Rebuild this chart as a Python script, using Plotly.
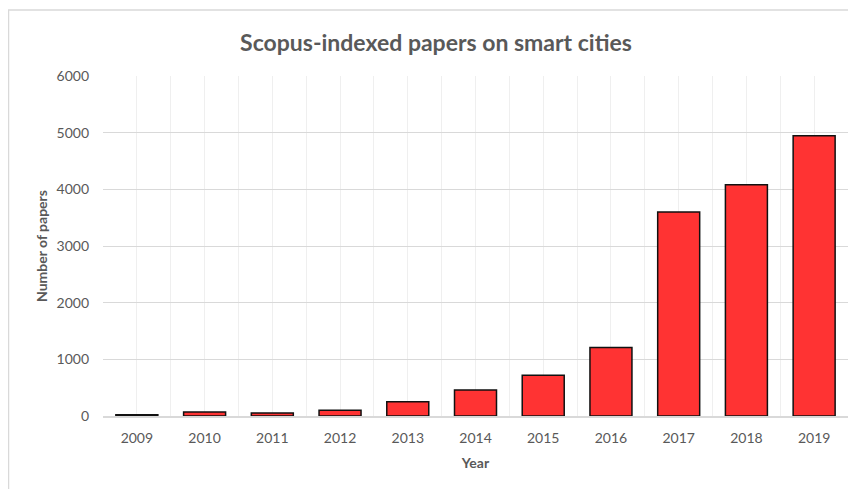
import plotly.graph_objects as go

years = [2009, 2010, 2011, 2012, 2013, 2014, 2015, 2016, 2017, 2018, 2019]
papers = [20, 70, 55, 100, 250, 460, 720, 1210, 3600, 4080, 4945]
y_ticks = [0, 1000, 2000, 3000, 4000, 5000, 6000]

# page body has an 8px margin; figure coordinates = page coordinates - 8
W, H = 848, 481
L, R, T, B = 95, 8, 68, 73
pw, ph = W - L - R, H - T - B

def px_x(x):
    return (x - L) / pw

def px_y(y):
    return (H - B - y) / ph

fig = go.Figure()
fig.add_trace(go.Bar(
    x=years, y=papers,
    marker=dict(color="#FF3333", line=dict(color="#111111", width=1.5)),
    width=0.62,
))

font = "Lato, 'Open Sans', sans-serif"
fig.update_layout(
    width=W, height=H,
    margin=dict(l=L, r=R, t=T, b=B, autoexpand=False),
    paper_bgcolor="white", plot_bgcolor="white",
    showlegend=False,
    title=dict(text="<b>Scopus-indexed papers on smart cities</b>",
               x=428 / W, xanchor="center", y=1 - 35 / H, yanchor="middle",
               font=dict(family=font, size=23, color="#595959")),
    font=dict(family=font, color="#595959"),
    xaxis=dict(
        range=[2008.5, 2019.5], tickmode="array", tickvals=years,
        ticktext=[str(y) for y in years],
        tickfont=dict(size=14, color="#595959"),
        showgrid=True, gridcolor="#EFEFEF", gridwidth=1,
        minor=dict(tick0=2008.5, dtick=1, showgrid=True, gridcolor="#EFEFEF", gridwidth=1),
        showline=True, linecolor="#D9D9D9", linewidth=1.5,
        ticks="", zeroline=False, automargin=False,
        ticklabelstandoff=8,
        title=dict(text="<b>Year</b>", font=dict(size=14, color="#595959"), standoff=14),
    ),
    yaxis=dict(
        range=[0, 6000], tickmode="array", tickvals=y_ticks,
        ticktext=[str(v) for v in y_ticks],
        tickfont=dict(size=14, color="#595959"),
        showgrid=True, gridcolor="#D9D9D9", gridwidth=1,
        zeroline=False, showline=False, ticks="", automargin=False,
        ticklabelstandoff=13,
        title=dict(text="<b>Number of papers</b>", font=dict(size=14, color="#595959"), standoff=5),
    ),
    shapes=[dict(type="rect", xref="paper", yref="paper",
                 x0=px_x(0.5), x1=px_x(W + 5), y0=px_y(2), y1=px_y(H + 5),
                 line=dict(color="#D9D9D9", width=1.5), fillcolor="rgba(0,0,0,0)", layer="below")],
)

fig.write_html("out.html")
